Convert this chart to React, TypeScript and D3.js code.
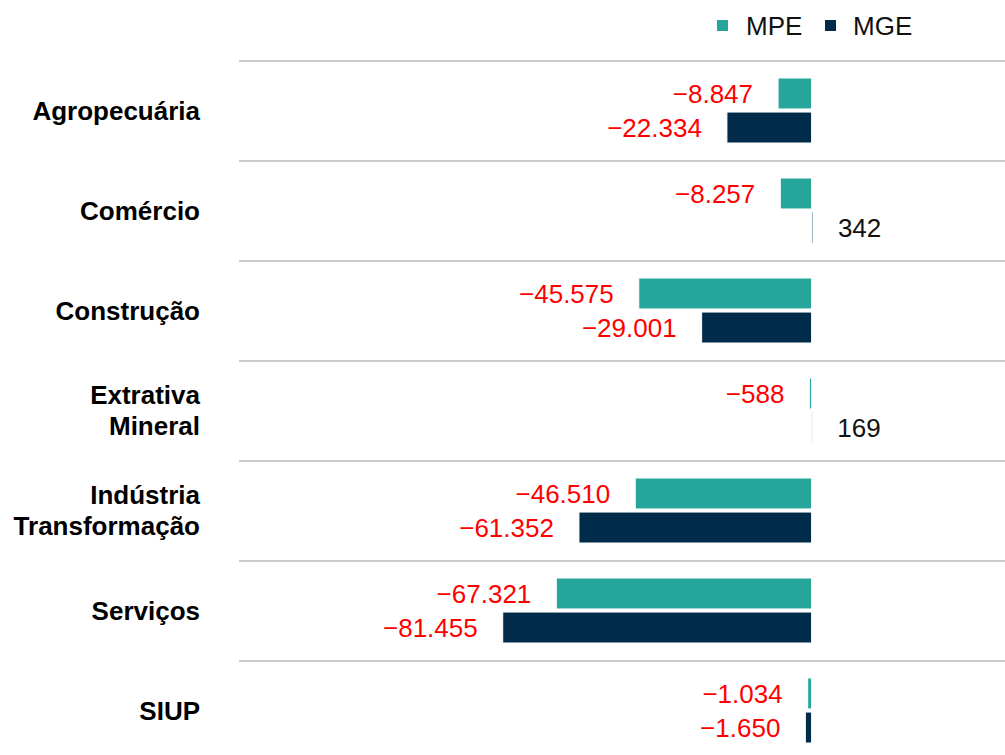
import React from "react";
import * as d3 from "d3";

const categories = [
  ["Agropecuária"],
  ["Comércio"],
  ["Construção"],
  ["Extrativa", "Mineral"],
  ["Indústria", "Transformação"],
  ["Serviços"],
  ["SIUP"],
];
const seriesNames = ["MPE", "MGE"];
const mpeValues = [-8847, -8257, -45575, -588, -46510, -67321, -1034];
const mgeValues = [-22334, 342, -29001, 169, -61352, -81455, -1650];

const colors = { MPE: "#26a69a", MGE: "#002b49" };
const FONT = "'Liberation Sans', Arial, Helvetica, sans-serif";

const WIDTH = 1005;
const HEIGHT = 755;
const margin = { top: 61, left: 239, right: 0 };

const br = d3.formatLocale({
  decimal: ",",
  thousands: ".",
  grouping: [3],
  currency: ["R$", ""],
  minus: "\u2212",
});
const fmt = br.format(",d");

export default function App() {
  const keys = categories.map((c) => c.join(" "));

  const x = d3.scaleLinear().domain([-151000, 51000]).range([margin.left, WIDTH - margin.right]);
  const y = d3.scaleBand().domain(keys).range([margin.top, margin.top + 700]).paddingInner(0);
  const inner = d3.scaleBand().domain(seriesNames).range([17, 82]).paddingInner(0.09);

  const rows = keys.map((k, i) => ({
    key: k,
    lines: categories[i],
    values: [
      { name: "MPE", value: mpeValues[i] },
      { name: "MGE", value: mgeValues[i] },
    ],
  }));

  return (
    <svg
      width={WIDTH}
      height={HEIGHT}
      style={{ position: "absolute", left: 0, top: 0, background: "#fff" }}
      fontFamily={FONT}
    >
      {/* legend */}
      <g>
        <rect x={717} y={20} width={11} height={11} fill={colors.MPE} />
        <text x={746} y={25.5} dy="0.36em" fontSize={26} fill="#111">MPE</text>
        <rect x={825} y={20} width={11} height={11} fill={colors.MGE} />
        <text x={853} y={25.5} dy="0.36em" fontSize={26} fill="#111">MGE</text>
      </g>

      {/* grid lines between categories */}
      {keys.map((k) => (
        <line
          key={k}
          x1={margin.left}
          x2={WIDTH}
          y1={y(k)}
          y2={y(k)}
          stroke="#cccccc"
          strokeWidth={2}
        />
      ))}

      {rows.map((r) => {
        const y0 = y(r.key) as number;
        const mid = y0 + y.bandwidth() / 2;
        const lh = 31;
        return (
          <g key={r.key}>
            <text
              x={200}
              textAnchor="end"
              fontSize={26}
              fontWeight="bold"
              fill="#000"
            >
              {r.lines.map((l, j) => (
                <tspan
                  key={l}
                  x={200}
                  y={mid + (j - (r.lines.length - 1) / 2) * lh}
                  dy="0.34em"
                >
                  {l}
                </tspan>
              ))}
            </text>
            {r.values.map((d) => {
              const by = y0 + (inner(d.name) as number);
              const x0 = x(Math.min(0, d.value));
              const x1 = x(Math.max(0, d.value));
              const cy = by + inner.bandwidth() / 2;
              const neg = d.value < 0;
              return (
                <g key={d.name}>
                  <rect
                    x={x0}
                    y={by}
                    width={x1 - x0}
                    height={inner.bandwidth()}
                    fill={colors[d.name as "MPE" | "MGE"]}
                    stroke="#ffffff"
                    strokeWidth={1}
                  />
                  <text
                    x={neg ? x(d.value) - 25 : x(d.value) + 25}
                    y={cy}
                    dy="0.36em"
                    textAnchor={neg ? "end" : "start"}
                    fontSize={26}
                    fill={neg ? "#ff0000" : "#111"}
                  >
                    {fmt(d.value)}
                  </text>
                </g>
              );
            })}
          </g>
        );
      })}
    </svg>
  );
}
